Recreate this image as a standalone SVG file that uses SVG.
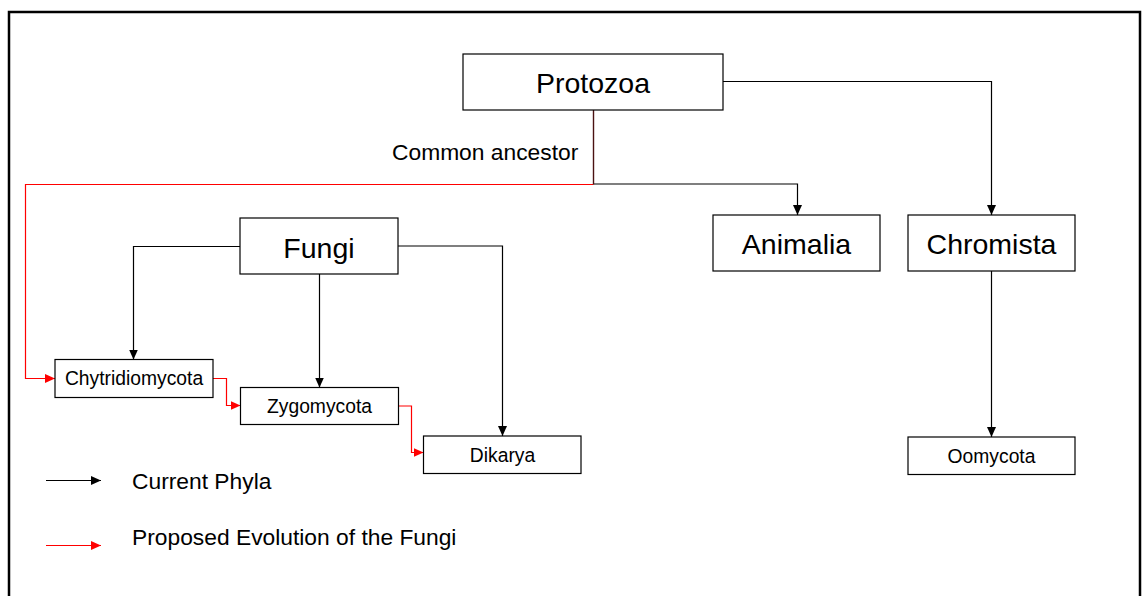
<svg xmlns="http://www.w3.org/2000/svg" width="1143" height="596" viewBox="0 0 1143 596">
<style>
.box{fill:#fff;stroke:#000;stroke-width:1.2}
.big{font-family:"Liberation Sans",Arial,sans-serif;font-size:28.5px;text-anchor:middle;fill:#000}
.small{font-family:"Liberation Sans",Arial,sans-serif;font-size:19.3px;text-anchor:middle;fill:#000}
.lbl{font-family:"Liberation Sans",Arial,sans-serif;font-size:22.8px;fill:#000}
.blk{fill:none;stroke:#000;stroke-width:1.2}
.red{fill:none;stroke:#ff0000;stroke-width:1.2}
</style>
<defs>
<marker id="ab" markerUnits="userSpaceOnUse" markerWidth="10" markerHeight="9" refX="10" refY="4.5" orient="auto"><path d="M0,0 L10,4.5 L0,9 z" fill="#000"/></marker>
<marker id="ar" markerUnits="userSpaceOnUse" markerWidth="10" markerHeight="9" refX="10" refY="4.5" orient="auto"><path d="M0,0 L10,4.5 L0,9 z" fill="#ff0000"/></marker>
</defs>
<rect x="0" y="0" width="1143" height="596" fill="#fff"/>
<rect x="9" y="12" width="1131" height="600" fill="none" stroke="#000" stroke-width="2.5"/>
<g id="connectors">
<path class="blk" d="M593.5,184 H797.5 V215" marker-end="url(#ab)"/>
<path class="blk" d="M723,81.5 H991.5 V215" marker-end="url(#ab)"/>
<path class="blk" d="M991.5,271 V437" marker-end="url(#ab)"/>
<path class="blk" d="M240,246.5 H133.5 V359.5" marker-end="url(#ab)"/>
<path class="blk" d="M319.5,274 V387.5" marker-end="url(#ab)"/>
<path class="blk" d="M398,246 H502.5 V436" marker-end="url(#ab)"/>
<path class="red" d="M593.5,184.5 H25.5 V378.5 H55" marker-end="url(#ar)"/>
<path fill="none" stroke="#4a1212" stroke-width="1.4" d="M593.5,110 V184.5"/>
<path class="red" d="M213,378.5 H226.5 V405.5 H240.5" marker-end="url(#ar)"/>
<path class="red" d="M398.5,406 H411.5 V452.5 H423.5" marker-end="url(#ar)"/>
<path class="blk" d="M46,480.5 H101" marker-end="url(#ab)"/>
<path class="red" d="M46,545.5 H101" marker-end="url(#ar)"/>
</g>
<g id="protozoa"><rect class="box" x="463" y="54" width="260" height="56"/><text class="big" x="593" y="93">Protozoa</text></g>
<g id="common-ancestor"><text class="lbl" x="392" y="160">Common ancestor</text></g>
<g id="animalia"><rect class="box" x="713" y="215" width="167" height="56"/><text class="big" x="796.5" y="254">Animalia</text></g>
<g id="chromista"><rect class="box" x="908" y="215" width="167" height="56"/><text class="big" x="991.5" y="254">Chromista</text></g>
<g id="fungi"><rect class="box" x="240" y="218" width="158" height="56"/><text class="big" x="319" y="258">Fungi</text></g>
<g id="chytridiomycota"><rect class="box" x="55" y="359.5" width="158" height="38"/><text class="small" x="134" y="385">Chytridiomycota</text></g>
<g id="zygomycota"><rect class="box" x="240.5" y="387.5" width="158" height="37"/><text class="small" x="319.5" y="413">Zygomycota</text></g>
<g id="dikarya"><rect class="box" x="423.5" y="436" width="157.5" height="37.5"/><text class="small" x="502.5" y="462">Dikarya</text></g>
<g id="oomycota"><rect class="box" x="908" y="437" width="167" height="37.5"/><text class="small" x="991.5" y="462.5">Oomycota</text></g>
<g id="legend"><text class="lbl" x="132" y="489">Current Phyla</text><text class="lbl" x="132" y="545">Proposed Evolution of the Fungi</text></g>
</svg>
